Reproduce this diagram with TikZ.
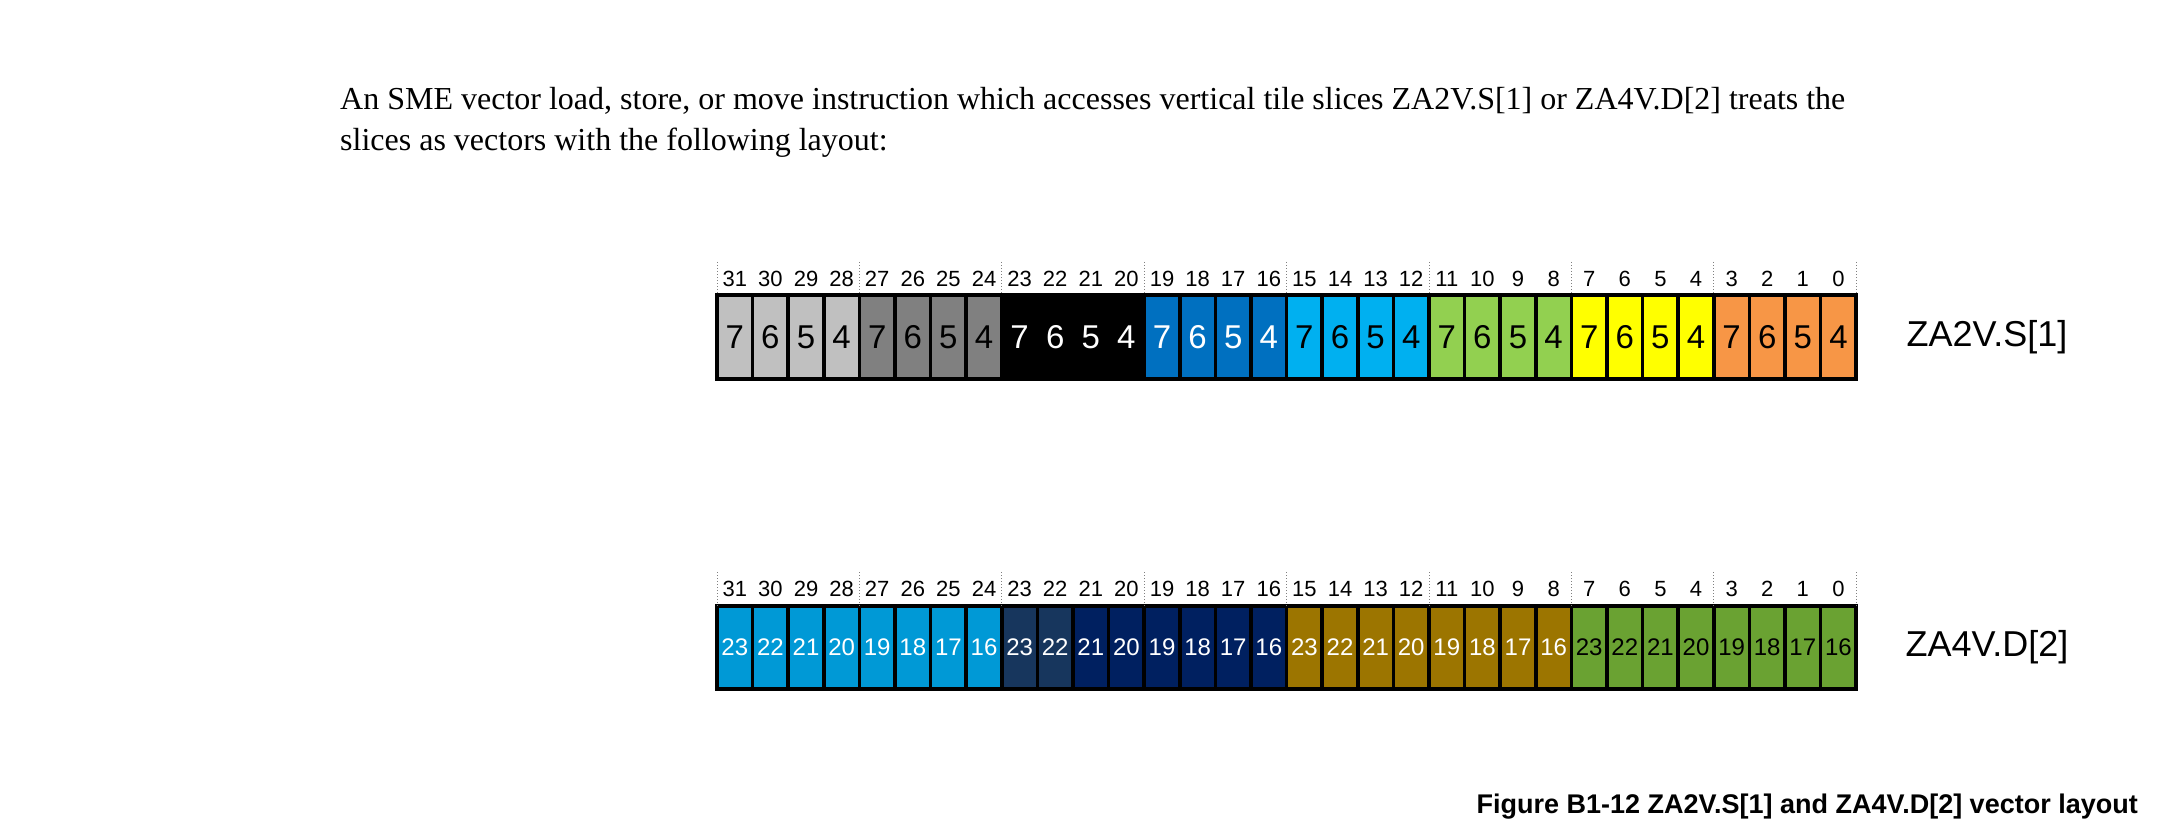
\documentclass[tikz,border=0pt]{standalone}
\usepackage{fontspec}
\setmainfont{Liberation Serif}
\newfontfamily\arial{Liberation Sans}
\definecolor{lg}{HTML}{C0C0C0}\definecolor{dg}{HTML}{808080}
\definecolor{bl}{HTML}{0070C0}\definecolor{cy}{HTML}{00B0F0}
\definecolor{gr}{HTML}{92D050}\definecolor{ye}{HTML}{FFFF00}
\definecolor{or}{HTML}{F79646}
\definecolor{b1}{HTML}{0099D6}\definecolor{b2}{HTML}{17365D}
\definecolor{b3}{HTML}{002060}\definecolor{ol}{HTML}{9C7500}
\definecolor{g2}{HTML}{6AA232}
\tikzset{cell/.style={draw=black,line width=3.5pt},
frame/.style={draw=black,line width=4pt},
bitnum/.style={font=\arial\fontsize{22}{24}\selectfont,anchor=base},
guide/.style={gray,dotted,line width=1pt}}
\begin{document}
\begin{tikzpicture}[x=1pt,y=-1pt]
\useasboundingbox (0,0) rectangle (2159,834);
\node[anchor=base west,font=\fontsize{32}{40}\selectfont,inner sep=0] (p1) at (340,110) {An SME vector load, store, or move instruction which accesses vertical tile slices ZA2V.S[1] or ZA4V.D[2] treats the};
\node[anchor=base west,font=\fontsize{32}{40}\selectfont,inner sep=0] (p2) at (340,151) {slices as vectors with the following layout:};
\def\L{717}\def\W{35.6}
% row 1
\foreach \i/\c/\t/\tc in {0/lg/7/black,1/lg/6/black,2/lg/5/black,3/lg/4/black,4/dg/7/black,5/dg/6/black,6/dg/5/black,7/dg/4/black,8/black/7/white,9/black/6/white,10/black/5/white,11/black/4/white,12/bl/7/white,13/bl/6/white,14/bl/5/white,15/bl/4/white,16/cy/7/black,17/cy/6/black,18/cy/5/black,19/cy/4/black,20/gr/7/black,21/gr/6/black,22/gr/5/black,23/gr/4/black,24/ye/7/black,25/ye/6/black,26/ye/5/black,27/ye/4/black,28/or/7/black,29/or/6/black,30/or/5/black,31/or/4/black}{
 \pgfmathsetmacro\xa{\L+\i*\W}
 \ifnum\i>7 \ifnum\i<12 \fill[black] (\xa,295) rectangle ++(\W,84); \else \draw[cell,fill=\c] (\xa,295) rectangle ++(\W,84); \fi
 \else \draw[cell,fill=\c] (\xa,295) rectangle ++(\W,84); \fi
 \node[text=\tc,font=\arial\fontsize{33}{36}\selectfont] (a\i) at (\xa+\W/2,337) {\t};
 \pgfmathtruncatemacro\b{31-\i}
 \node[bitnum] (na\i) at (\xa+\W/2,286) {\b};
 \pgfmathsetmacro\xb{\L+\i*\W+\W/2}
 \node[text=\tc,font=\arial\fontsize{25}{28}\selectfont,white] at (0,0) {};
}
\draw[frame] (\L,295) rectangle (\L+32*\W,379);
\foreach \k in {0,...,8}{\draw[guide] (\L+4*\k*\W,262) -- (\L+4*\k*\W,295);}
\node[font=\arial\fontsize{36}{40}\selectfont] (la) at (1987,337) {ZA2V.S[1]};
% row 2
\foreach \i/\c/\t/\tc in {0/b1/23/white,1/b1/22/white,2/b1/21/white,3/b1/20/white,4/b1/19/white,5/b1/18/white,6/b1/17/white,7/b1/16/white,8/b2/23/white,9/b2/22/white,10/b3/21/white,11/b3/20/white,12/b3/19/white,13/b3/18/white,14/b3/17/white,15/b3/16/white,16/ol/23/white,17/ol/22/white,18/ol/21/white,19/ol/20/white,20/ol/19/white,21/ol/18/white,22/ol/17/white,23/ol/16/white,24/g2/23/black,25/g2/22/black,26/g2/21/black,27/g2/20/black,28/g2/19/black,29/g2/18/black,30/g2/17/black,31/g2/16/black}{
 \pgfmathsetmacro\xa{\L+\i*\W}
 \draw[cell,fill=\c] (\xa,606) rectangle ++(\W,83);
 \node[text=\tc,font=\arial\fontsize{24}{26}\selectfont,inner sep=0] (c\i) at (\xa+\W/2,647) {\t};
 \pgfmathtruncatemacro\b{31-\i}
 \node[bitnum] (nb\i) at (\xa+\W/2,596) {\b};
}
\draw[frame] (\L,606) rectangle (\L+32*\W,689);
\foreach \k in {0,...,8}{\draw[guide] (\L+4*\k*\W,572) -- (\L+4*\k*\W,606);}
\node[font=\arial\fontsize{36}{40}\selectfont] (lb) at (1987,647) {ZA4V.D[2]};
\node[anchor=base east,font=\arial\bfseries\fontsize{27}{30}\selectfont,inner sep=0] (cap) at (2138,813) {Figure B1-12 ZA2V.S[1] and ZA4V.D[2] vector layout};
\end{tikzpicture}
\end{document}
